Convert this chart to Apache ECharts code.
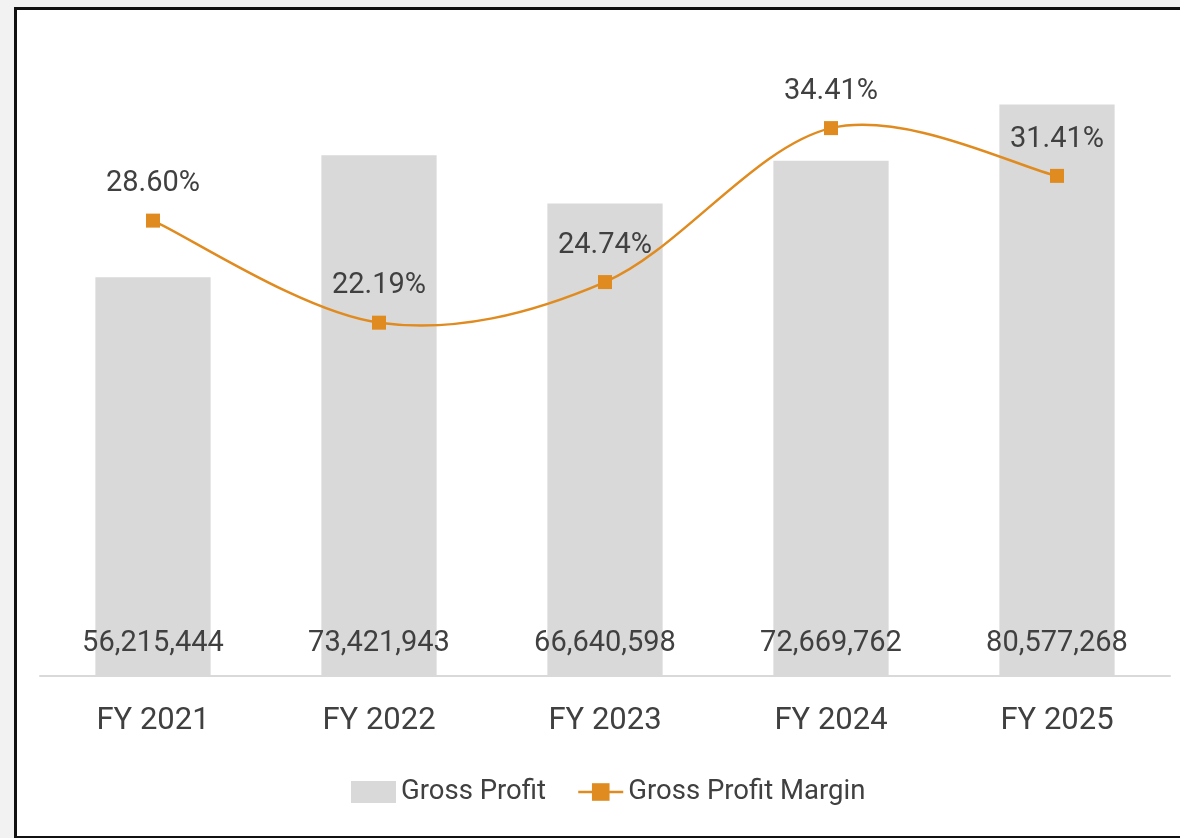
<!DOCTYPE html>
<html>
<head>
<meta charset="utf-8">
<script src="https://cdn.jsdelivr.net/npm/echarts@6/dist/echarts.min.js"></script>
<style>
  html, body { margin: 0; width: 100%; height: 100%; background: #f3f2f2; overflow: hidden; }
  .frame { position: absolute; left: 14px; top: 7px; width: 1180px; height: 826px; background: #fff; border: 3px solid #111; }
  #main { position: absolute; left: 0; top: 0; width: 1180px; height: 838px; }
</style>
</head>
<body>
<div class="frame"></div>
<div id="main"></div>
<script>
var years = ['FY 2021', 'FY 2022', 'FY 2023', 'FY 2024', 'FY 2025'];
var grossProfit = [56215444, 73421943, 66640598, 72669762, 80577268];
var grossMargin = [28.60, 22.19, 24.74, 34.41, 31.41];

var font = 'Roboto, sans-serif';
var textColor = '#404040';
var orange = '#e08b1f';

// smooth curve like the spreadsheet one (catmull-rom), one segment per point
function renderCurve(params, api) {
    var i = params.dataIndex;
    var n = grossMargin.length;
    if (i >= n - 1) return null;
    function pt(k) {
        k = Math.max(0, Math.min(n - 1, k));
        return api.coord([k, grossMargin[k]]);
    }
    var p0 = pt(i - 1), p1 = pt(i), p2 = pt(i + 1), p3 = pt(i + 2);
    return {
        type: 'bezierCurve',
        shape: {
            x1: p1[0], y1: p1[1],
            x2: p2[0], y2: p2[1],
            cpx1: p1[0] + (p2[0] - p0[0]) / 6, cpy1: p1[1] + (p2[1] - p0[1]) / 6,
            cpx2: p2[0] - (p3[0] - p1[0]) / 6, cpy2: p2[1] - (p3[1] - p1[1]) / 6
        },
        style: { stroke: orange, lineWidth: 2.5, fill: null }
    };
}

var chart = echarts.init(document.getElementById('main'));
var option = {
    backgroundColor: 'transparent',
    textStyle: { fontFamily: font },
    grid: { left: 40, right: 10, top: 20, bottom: 162 },
    legend: {
        bottom: 27,
        left: 346,
        itemWidth: 45,
        itemHeight: 22,
        itemGap: 31,
        textStyle: { fontFamily: font, fontSize: 27.5, color: textColor },
        data: [
            { name: 'Gross Profit', icon: 'rect' },
            { name: 'Gross Profit Margin', lineStyle: { color: orange, width: 2.5, opacity: 1 } }
        ]
    },
    xAxis: {
        type: 'category',
        data: years,
        axisTick: { show: false },
        axisLine: { lineStyle: { color: '#d9d9d9', width: 2 } },
        axisLabel: { fontFamily: font, fontSize: 31, color: textColor, margin: 30 }
    },
    yAxis: [
        { type: 'value', min: 0, max: 92.5e6, show: false, splitLine: { show: false } },
        { type: 'value', min: 0, max: 41.2, show: false, splitLine: { show: false } }
    ],
    series: [
        {
            name: 'Gross Profit',
            type: 'bar',
            data: grossProfit,
            barWidth: '51%',
            itemStyle: { color: '#d9d9d9' },
            label: {
                show: true,
                position: 'insideBottom',
                distance: 18,
                fontFamily: font,
                fontSize: 29,
                color: textColor,
                formatter: function (p) { return p.value.toLocaleString('en-US'); }
            }
        },
        {
            type: 'custom',
            yAxisIndex: 1,
            data: grossMargin,
            renderItem: renderCurve,
            silent: true,
            z: 3
        },
        {
            name: 'Gross Profit Margin',
            type: 'line',
            yAxisIndex: 1,
            data: grossMargin,
            symbol: 'rect',
            symbolSize: 14,
            lineStyle: { color: orange, width: 2.5, opacity: 0 },
            itemStyle: { color: orange },
            z: 4,
            label: {
                show: true,
                position: 'top',
                distance: 15,
                fontFamily: font,
                fontSize: 29,
                color: textColor,
                formatter: function (p) { return p.value.toFixed(2) + '%'; }
            }
        }
    ]
};
chart.setOption(option);
</script>
</body>
</html>
